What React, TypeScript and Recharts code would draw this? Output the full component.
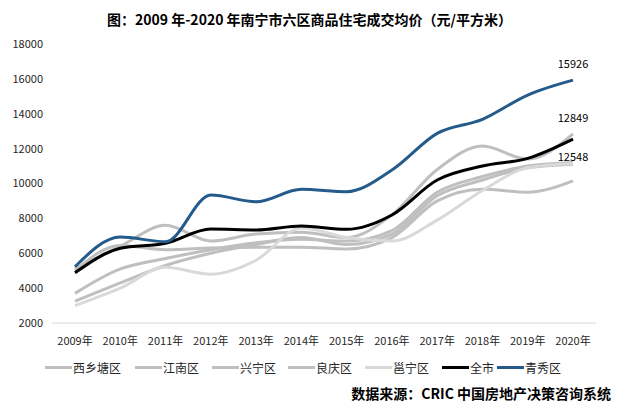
import { LineChart, Line, XAxis, YAxis, LabelList } from 'recharts'

const years = ['2009年', '2010年', '2011年', '2012年', '2013年', '2014年', '2015年', '2016年', '2017年', '2018年', '2019年', '2020年']

const xixiangtang = [5000, 6450, 6200, 6300, 6350, 6350, 6250, 6900, 9000, 9670, 9500, 10150]
const jiangnan = [3250, 4300, 5300, 6000, 6500, 6900, 6500, 7100, 9300, 10200, 10900, 11100]
const xingning = [3700, 5100, 5700, 6200, 6600, 6800, 6700, 7300, 9500, 10400, 11000, 11200]
const liangqing = [5100, 6400, 7600, 6700, 7100, 7200, 6900, 8200, 10800, 12150, 11400, 12849]
const yongning = [3000, 4000, 5200, 4800, 5600, 7450, 6900, 6700, 7900, 9600, 10900, 11150]
const quanshi = [4884, 6282, 6570, 7390, 7333, 7562, 7372, 8193, 10200, 11000, 11444, 12548]
const qingxiu = [5228, 6931, 6662, 9340, 8955, 9665, 9530, 10773, 12877, 13680, 15073, 15926]

const yTicks = [2000, 4000, 6000, 8000, 10000, 12000, 14000, 16000, 18000]

const series = [
  { key: 'xixiangtang', name: '西乡塘区', color: '#bfbfbf', values: xixiangtang },
  { key: 'jiangnan', name: '江南区', color: '#bfbfbf', values: jiangnan },
  { key: 'xingning', name: '兴宁区', color: '#bfbfbf', values: xingning },
  { key: 'liangqing', name: '良庆区', color: '#bfbfbf', values: liangqing, label: 'top' },
  { key: 'yongning', name: '邕宁区', color: '#d9d9d9', values: yongning },
  { key: 'quanshi', name: '全市', color: '#000000', values: quanshi, label: 'bottom' },
  { key: 'qingxiu', name: '青秀区', color: '#255b8a', values: qingxiu, label: 'top' },
]

const data = years.map((year, i) => {
  const row: Record<string, string | number> = { year }
  series.forEach((s) => {
    row[s.key] = s.values[i]
  })
  return row
})

const font = '"Noto Sans CJK SC", "Noto Sans", sans-serif'

// only the last point gets a value label
function lastLabel(pos: string) {
  return (props: any) => {
    const { x, y, value, index } = props
    if (index !== years.length - 1) return null
    const dy = pos === 'top' ? -15 : 19
    return (
      <text x={x} y={y + dy} textAnchor="middle" dominantBaseline="middle" fontSize={11} fill="#000" fontFamily={font}>
        {value}
      </text>
    )
  }
}

const legendX = [45, 135, 212, 288, 365, 442, 497]

export default function App() {
  return (
    <div style={{ position: 'fixed', left: 0, top: 0, width: 619, height: 404, background: '#fff', fontFamily: font }}>
      <div style={{ position: 'absolute', left: 0, top: 9, width: 619, textAlign: 'center', fontSize: 14, fontWeight: 'bold', lineHeight: '20px', color: '#000' }}>
        图：2009 年-2020 年南宁市六区商品住宅成交均价（元/平方米）
      </div>
      <LineChart width={619} height={404} data={data} margin={{ top: 44, right: 23, left: 0, bottom: 61 }}>
        <XAxis
          dataKey="year"
          height={20}
          padding={{ left: 23, right: 23 }}
          axisLine={{ stroke: '#d9d9d9' }}
          tickLine={false}
          tickMargin={8}
          tick={{ fill: '#262626', fontSize: 11, fontFamily: font }}
          interval={0}
        />
        <YAxis
          width={52}
          domain={[2000, 18000]}
          ticks={yTicks}
          axisLine={false}
          tickLine={false}
          tickMargin={3}
          tick={{ fill: '#262626', fontSize: 11, fontFamily: font }}
        />
        {series.map((s) => (
          <Line
            key={s.key}
            type="monotone"
            dataKey={s.key}
            name={s.name}
            stroke={s.color}
            strokeWidth={3}
            dot={false}
            isAnimationActive={false}
          >
            {s.label && <LabelList dataKey={s.key} content={lastLabel(s.label)} />}
          </Line>
        ))}
      </LineChart>
      <div style={{ position: 'absolute', left: 0, top: 358, width: 619, height: 18, fontSize: 12, color: '#262626' }}>
        {series.map((s, i) => (
          <div key={s.key} style={{ position: 'absolute', left: legendX[i], top: 0, display: 'flex', alignItems: 'center', height: 18, whiteSpace: 'nowrap' }}>
            <span style={{ display: 'inline-block', width: 27, height: 3, background: s.color, marginRight: 1 }} />
            <span>{s.name}</span>
          </div>
        ))}
      </div>
      <div style={{ position: 'absolute', right: 8, top: 383, fontSize: 14, fontWeight: 'bold', lineHeight: '20px', color: '#000', whiteSpace: 'nowrap' }}>
        数据来源：CRIC 中国房地产决策咨询系统
      </div>
    </div>
  )
}
